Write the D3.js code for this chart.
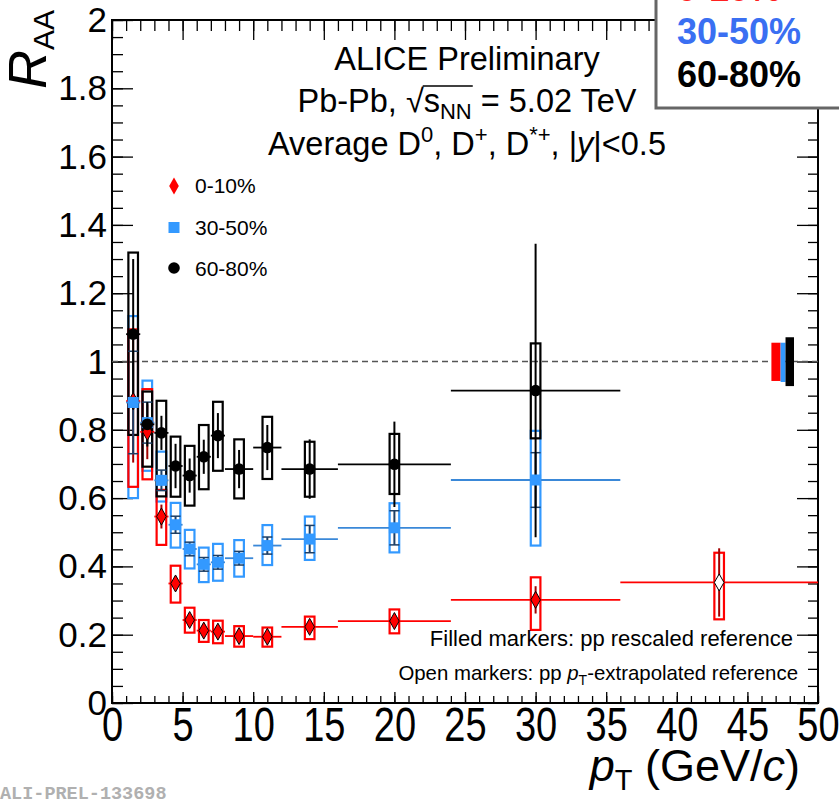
<!DOCTYPE html>
<html>
<head>
<meta charset="utf-8">
<script src="https://d3js.org/d3.v7.min.js"></script>
<style>
  body { margin: 0; background: #fff; }
  svg { font-family: "Liberation Sans", Arial, sans-serif; }
</style>
</head>
<body>
<div id="chart-area"></div>
<script>
// pT bins (GeV/c)
var ptCenter = [1.5, 2.5, 3.5, 4.5, 5.5, 6.5, 7.5, 9, 11, 14, 20, 30, 43];
var ptLow = [1, 2, 3, 4, 5, 6, 7, 8, 10, 12, 16, 24, 36];
var ptHigh = [2, 3, 4, 5, 6, 7, 8, 10, 12, 16, 24, 36, 50];

// 0-10% (last point: pT-extrapolated reference, open marker)
var raa010 = [0.884, 0.794, 0.546, 0.350, 0.243, 0.212, 0.209, 0.196, 0.194, 0.223, 0.240, 0.302, 0.353];
var stat010 = [0.18, 0.08, 0.035, 0.02, 0.012, 0.01, 0.01, 0.01, 0.01, 0.012, 0.015, 0.04, 0.1];
var systLo010 = [0.633, 0.655, 0.463, 0.294, 0.206, 0.179, 0.175, 0.165, 0.165, 0.187, 0.204, 0.214, 0.245];
var systHi010 = [1.094, 0.919, 0.624, 0.402, 0.279, 0.243, 0.241, 0.225, 0.221, 0.253, 0.274, 0.368, 0.440];

// 30-50%
var raa3050 = [0.880, 0.821, 0.652, 0.522, 0.451, 0.406, 0.412, 0.424, 0.461, 0.480, 0.513, 0.653];
var stat3050 = [0.15, 0.06, 0.03, 0.025, 0.02, 0.02, 0.02, 0.02, 0.025, 0.04, 0.05, 0.08];
var systLo3050 = [0.600, 0.680, 0.590, 0.455, 0.394, 0.354, 0.358, 0.370, 0.404, 0.419, 0.441, 0.461];
var systHi3050 = [1.133, 0.944, 0.736, 0.586, 0.507, 0.455, 0.466, 0.477, 0.521, 0.546, 0.585, 0.797];

// 60-80%
var raa6080 = [1.080, 0.816, 0.791, 0.694, 0.666, 0.721, 0.783, 0.685, 0.748, 0.685, 0.699, 0.915];
var stat6080 = [0.22, 0.065, 0.05, 0.065, 0.05, 0.05, 0.066, 0.056, 0.066, 0.087, 0.125, 0.43];
var systLo6080 = [0.785, 0.692, 0.605, 0.604, 0.578, 0.626, 0.680, 0.599, 0.656, 0.604, 0.612, 0.775];
var systHi6080 = [1.319, 0.912, 0.885, 0.780, 0.753, 0.814, 0.882, 0.772, 0.838, 0.765, 0.788, 1.053];

// normalisation uncertainty boxes at R_AA = 1
var normNames = ["0-10%", "30-50%", "60-80%"];
var normLo = [0.943, 0.940, 0.928];
var normHi = [1.055, 1.055, 1.071];
var normX0 = [46.7, 47.35, 47.7];
var normX1 = [47.35, 47.7, 48.3];

var colRed = "#ff0000", colBlue = "#3399ff", colBlack = "#000000";

var margin = { left: 112, right: 21, top: 20, bottom: 97 },
  width = 839 - margin.left - margin.right,
  height = 800 - margin.top - margin.bottom;

var svg = d3
  .select("#chart-area")
  .append("svg")
  .attr("width", 839)
  .attr("height", 800);
var g = svg
  .append("g")
  .attr("transform", "translate(" + margin.left + ", " + margin.top + ")");

// Scales
var x = d3.scaleLinear().domain([0, 50]).range([0, width]);
var y = d3.scaleLinear().domain([0, 2]).range([height, 0]);

function fmtY(d) {
  return d < 1e-6 ? "0" : String(+d.toFixed(1));
}

// Minor / major ticks on all four sides (ROOT style, pointing inwards)
function ticks(axis, tr, vals, size) {
  var a = g
    .append("g")
    .attr("transform", tr)
    .call(axis.tickValues(vals).tickSize(-size).tickSizeOuter(0).tickFormat(""));
  a.select(".domain").remove();
  a.selectAll("line").attr("stroke", "#000").attr("stroke-width", 1.3);
  return a;
}
var xMinor = d3.range(0, 50.5, 1), xMajor = d3.range(0, 50.5, 5);
var yMinor = d3.range(0, 2.001, 0.05), yMajor = d3.range(0, 2.001, 0.2);
ticks(d3.axisBottom(x), "translate(0," + height + ")", xMinor, 7);
ticks(d3.axisBottom(x), "translate(0," + height + ")", xMajor, 11);
ticks(d3.axisTop(x), "translate(0,0)", xMinor, 11);
ticks(d3.axisTop(x), "translate(0,0)", xMajor, 20);
ticks(d3.axisLeft(y), "translate(0,0)", yMinor, 11);
ticks(d3.axisLeft(y), "translate(0,0)", yMajor, 21);
ticks(d3.axisRight(y), "translate(" + width + ",0)", yMinor, 10);
ticks(d3.axisRight(y), "translate(" + width + ",0)", yMajor, 21);

// X labels
var xAxis = g
  .append("g")
  .attr("transform", "translate(0," + height + ")")
  .call(d3.axisBottom(x).tickValues(xMajor).tickSize(0).tickFormat(d3.format("d")));
xAxis.select(".domain").remove();
xAxis
  .attr("font-family", null)
  .selectAll("text")
  .attr("font-size", 38)
  .attr("fill", "#000")
  .attr("y", 0)
  .attr("dy", 0)
  .attr("transform", "translate(0,38) scale(1,1.28)");

// Y labels
var yAxis = g
  .append("g")
  .call(d3.axisLeft(y).tickValues(yMajor).tickSize(0).tickPadding(5).tickFormat(fmtY));
yAxis.select(".domain").remove();
yAxis
  .attr("font-family", null)
  .selectAll("text")
  .attr("font-size", 35)
  .attr("fill", "#000")
  .attr("dy", "0.33em");

// Frame
g.append("rect")
  .attr("width", width)
  .attr("height", height)
  .attr("fill", "none")
  .attr("stroke", "#000")
  .attr("stroke-width", 2);

// Unity line
g.append("line")
  .attr("x1", 0)
  .attr("x2", width)
  .attr("y1", y(1))
  .attr("y2", y(1))
  .attr("stroke", "#555")
  .attr("stroke-width", 1.5)
  .attr("stroke-dasharray", "6,4");

// Normalisation boxes
var normCols = [colRed, colBlue, colBlack];
normNames.forEach(function(n, i) {
  g.append("rect")
    .attr("x", x(normX0[i]))
    .attr("width", x(normX1[i]) - x(normX0[i]))
    .attr("y", y(normHi[i]))
    .attr("height", y(normLo[i]) - y(normHi[i]))
    .attr("fill", normCols[i]);
});

function build(vals, stat, lo, hi) {
  return vals.map(function(v, i) {
    return { pt: ptCenter[i], x0: ptLow[i], x1: ptHigh[i], v: v, s: stat[i], lo: lo[i], hi: hi[i], open: i === 12 };
  });
}
var d010 = build(raa010, stat010, systLo010, systHi010);
var d3050 = build(raa3050, stat3050, systLo3050, systHi3050);
var d6080 = build(raa6080, stat6080, systLo6080, systHi6080);

var boxHalf = 0.34;

function drawBoxes(data, col) {
  g.append("g")
    .selectAll("rect")
    .data(data)
    .enter()
    .append("rect")
    .attr("x", function(d) { return x(d.pt - boxHalf); })
    .attr("width", x(2 * boxHalf) - x(0))
    .attr("y", function(d) { return y(d.hi); })
    .attr("height", function(d) { return y(d.lo) - y(d.hi); })
    .attr("fill", "none")
    .attr("stroke", col)
    .attr("stroke-width", 2.2);
}

function drawErrors(data, col, statCol, caps) {
  var eg = g.append("g");
  eg.selectAll(".xerr")
    .data(data)
    .enter()
    .append("line")
    .attr("x1", function(d) { return x(d.x0); })
    .attr("x2", function(d) { return x(d.x1); })
    .attr("y1", function(d) { return y(d.v); })
    .attr("y2", function(d) { return y(d.v); })
    .attr("stroke", col)
    .attr("stroke-width", 1.8);
  eg.selectAll(".yerr")
    .data(data)
    .enter()
    .append("line")
    .attr("x1", function(d) { return x(d.pt); })
    .attr("x2", function(d) { return x(d.pt); })
    .attr("y1", function(d) { return y(d.v + d.s); })
    .attr("y2", function(d) { return y(d.v - d.s); })
    .attr("stroke", statCol)
    .attr("stroke-width", 2);
  if (caps) {
    [-1, 1].forEach(function(sgn) {
      eg.selectAll(".cap")
        .data(data)
        .enter()
        .append("line")
        .attr("x1", function(d) { return x(d.pt) - 5; })
        .attr("x2", function(d) { return x(d.pt) + 5; })
        .attr("y1", function(d) { return y(d.v + sgn * d.s); })
        .attr("y2", function(d) { return y(d.v + sgn * d.s); })
        .attr("stroke", statCol)
        .attr("stroke-width", 1.5);
    });
  }
}

var diamond = "M0,-8.5L4.8,0L0,8.5L-4.8,0Z";

function drawMarkers(data, kind) {
  var mg = g.append("g");
  var sel = mg.selectAll(".m").data(data).enter();
  if (kind === "diamond") {
    sel.append("path")
      .attr("d", diamond)
      .attr("transform", function(d) { return "translate(" + x(d.pt) + "," + y(d.v) + ")"; })
      .attr("fill", function(d) { return d.open ? "#fff" : colRed; })
      .attr("stroke", "#000")
      .attr("stroke-width", 1);
  } else if (kind === "square") {
    sel.append("rect")
      .attr("x", function(d) { return x(d.pt) - 5.5; })
      .attr("y", function(d) { return y(d.v) - 5.5; })
      .attr("width", 11)
      .attr("height", 11)
      .attr("fill", colBlue);
  } else {
    sel.append("circle")
      .attr("cx", function(d) { return x(d.pt); })
      .attr("cy", function(d) { return y(d.v); })
      .attr("r", 5.8)
      .attr("fill", colBlack);
  }
}

// Systematic boxes
drawBoxes(d3050, colBlue);
drawBoxes(d010, colRed);
drawBoxes(d6080, colBlack);

// Error bars
drawErrors(d010, colRed, "#a30000", false);
drawErrors(d3050, "#3a88d8", "#1d3f66", true);
drawErrors(d6080, colBlack, "#000", false);

// Markers
drawMarkers(d010, "diamond");
drawMarkers(d3050, "square");
drawMarkers(d6080, "circle");

// Legend (upper left)
var leg = svg.append("g");
leg.append("path").attr("d", diamond).attr("transform", "translate(174,186)").attr("fill", colRed);
leg.append("rect").attr("x", 168.5).attr("y", 222).attr("width", 11).attr("height", 11).attr("fill", colBlue);
leg.append("circle").attr("cx", 174).attr("cy", 268).attr("r", 5.8).attr("fill", "#000");
["0-10%", "30-50%", "60-80%"].forEach(function(s, i) {
  leg.append("text")
    .attr("x", 195)
    .attr("y", 193 + i * 41.5)
    .attr("font-size", 21)
    .text(s);
});

// Header text
svg.append("text")
  .attr("x", 467)
  .attr("y", 70)
  .attr("text-anchor", "middle")
  .attr("font-size", 32.5)
  .text("ALICE Preliminary");

var t2 = svg.append("text")
  .attr("x", 467)
  .attr("y", 112)
  .attr("text-anchor", "middle")
  .attr("font-size", 32.5);
t2.append("tspan").text("Pb-Pb, ");
t2.append("tspan").text("\u221A");
t2.append("tspan").text("s");
t2.append("tspan").attr("font-size", 22).attr("dy", 7).text("NN");
t2.append("tspan").attr("dy", -7).text(" = 5.02 TeV");
// bar of the square root
var n2 = t2.node();
var e0 = n2.getExtentOfChar(7), e1 = n2.getExtentOfChar(10);
svg.append("line")
  .attr("x1", e0.x + e0.width - 1)
  .attr("x2", e1.x + e1.width + 1)
  .attr("y1", e0.y + 3)
  .attr("y2", e0.y + 3)
  .attr("stroke", "#000")
  .attr("stroke-width", 1.5);

var t3 = svg.append("text")
  .attr("x", 467)
  .attr("y", 155)
  .attr("text-anchor", "middle")
  .attr("font-size", 32.5);
t3.append("tspan").text("Average D");
t3.append("tspan").attr("font-size", 22).attr("dy", -13).text("0");
t3.append("tspan").attr("dy", 13).text(", D");
t3.append("tspan").attr("font-size", 22).attr("dy", -13).text("+");
t3.append("tspan").attr("dy", 13).text(", D");
t3.append("tspan").attr("font-size", 22).attr("dy", -13).text("*+");
t3.append("tspan").attr("dy", 13).text(", |");
t3.append("tspan").attr("font-style", "italic").text("y");
t3.append("tspan").text("|<0.5");

// Reference notes
svg.append("text")
  .attr("x", 793)
  .attr("y", 646)
  .attr("text-anchor", "end")
  .attr("font-size", 22)
  .text("Filled markers: pp rescaled reference");
var t4 = svg.append("text")
  .attr("x", 798)
  .attr("y", 680)
  .attr("text-anchor", "end")
  .attr("font-size", 20.4);
t4.append("tspan").text("Open markers: pp ");
t4.append("tspan").attr("font-style", "italic").text("p");
t4.append("tspan").attr("font-size", 14).attr("dy", 5).text("T");
t4.append("tspan").attr("dy", -5).text("-extrapolated reference");

// Axis titles
var yt = svg.append("text")
  .attr("transform", "translate(46,10) rotate(-90)")
  .attr("text-anchor", "end");
yt.append("tspan").attr("font-size", 54).attr("font-style", "italic").text("R");
yt.append("tspan").attr("font-size", 30).attr("dy", 8).text("AA");

var xt = svg.append("text")
  .attr("transform", "translate(800,781)")
  .attr("text-anchor", "end")
  .attr("font-size", 45);
xt.append("tspan").attr("font-style", "italic").text("p");
xt.append("tspan").attr("font-size", 29).attr("dy", 9).text("T");
xt.append("tspan").attr("dy", -9).text(" (GeV/");
xt.append("tspan").attr("font-style", "italic").text("c");
xt.append("tspan").text(")");

svg.append("text")
  .attr("x", 0)
  .attr("y", 799)
  .style("font-family", "'Liberation Mono', 'Courier New', monospace")
  .attr("font-weight", "bold")
  .attr("font-size", 18.5)
  .attr("fill", "#b0b0b0")
  .text("ALI-PREL-133698");

// Centrality box (top right)
svg.append("rect")
  .attr("x", 656)
  .attr("y", -10)
  .attr("width", 200)
  .attr("height", 118)
  .attr("fill", "#fff")
  .attr("stroke", "#666")
  .attr("stroke-width", 3);
var boxTxt = [["0-10%", "#ff2020"], ["30-50%", "#3a6ff2"], ["60-80%", "#000"]];
boxTxt.forEach(function(b, i) {
  svg.append("text")
    .attr("x", 677)
    .attr("y", 1 + i * 43)
    .attr("font-size", 36)
    .attr("font-weight", "bold")
    .attr("fill", b[1])
    .text(b[0]);
});
</script>
</body>
</html>
